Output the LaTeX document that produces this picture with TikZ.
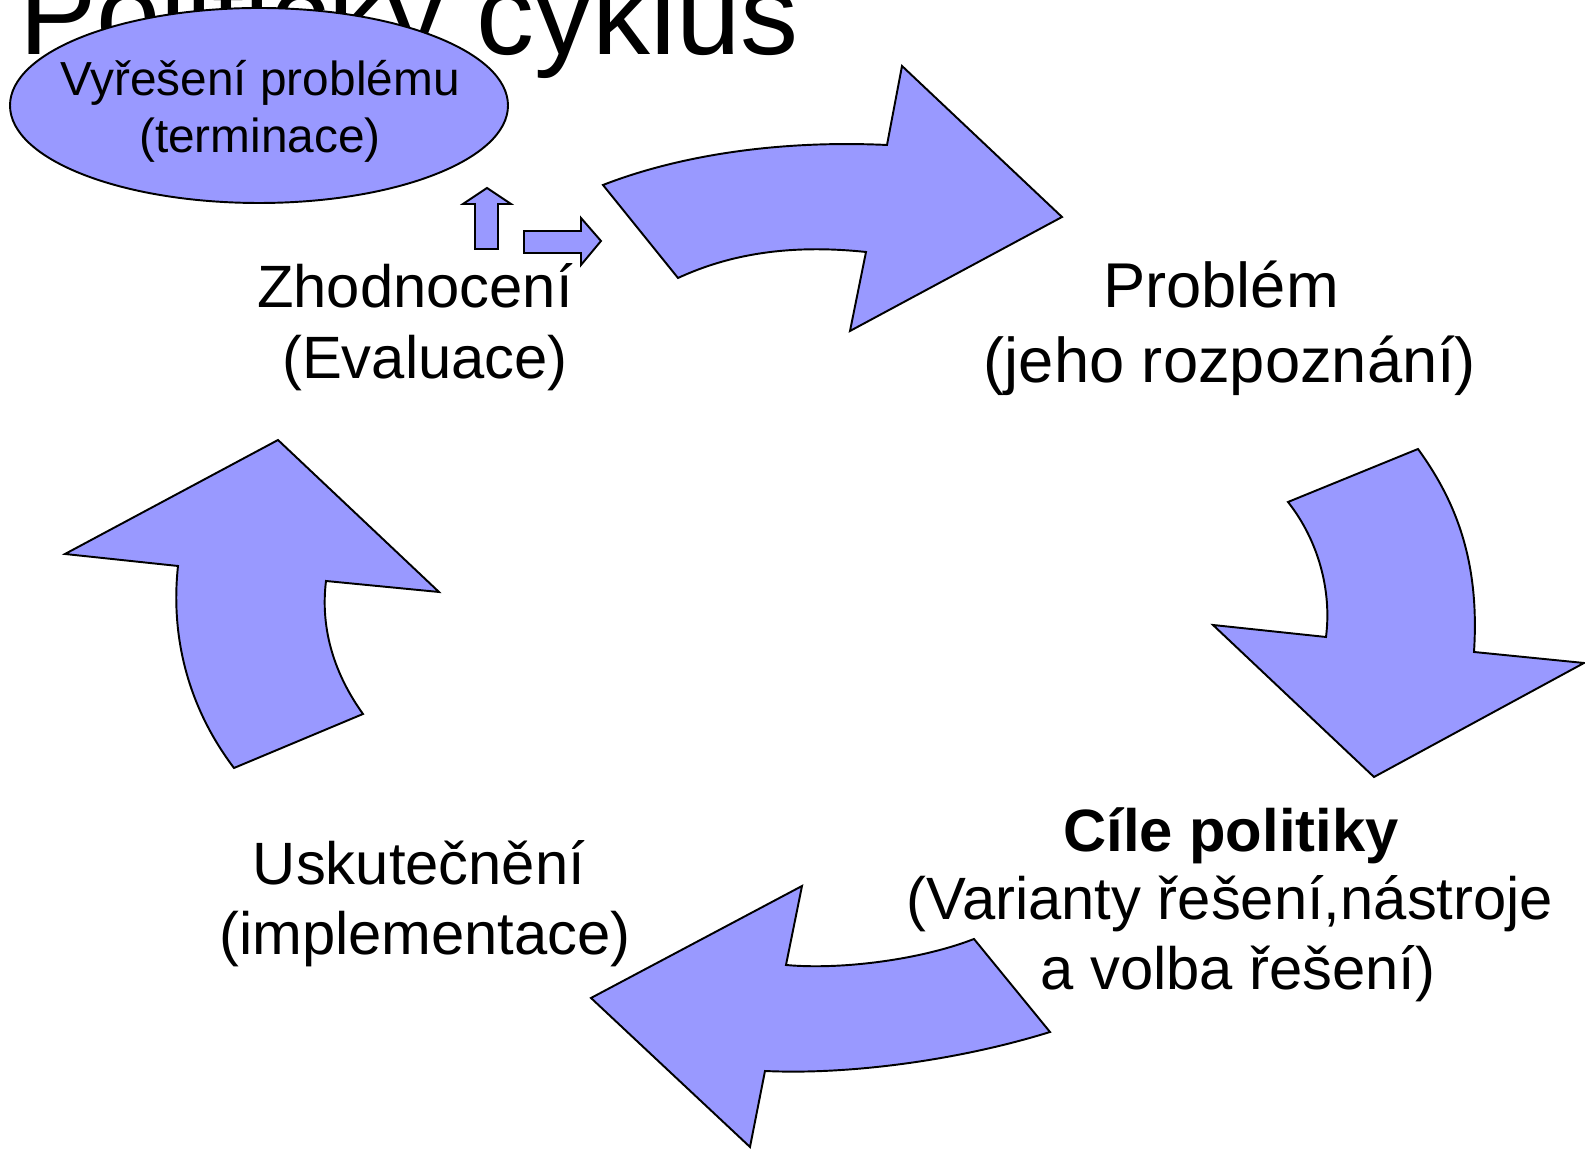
\documentclass[tikz,border=0pt]{standalone}
\usepackage{fontspec}
\setmainfont{Liberation Sans}
\usetikzlibrary{shapes.geometric}
\newlength{\du}
\setlength{\du}{0.284528\unitlength}
\definecolor{shapefill}{rgb}{0.600000, 0.600000, 1.000000}
\tikzset{
  cyclearrow/.style={draw=black, fill=shapefill, line width=0.55pt, line join=miter},
  stagetext/.style={anchor=base, inner sep=0pt, font=\fontsize{17}{20}\selectfont},
  bigtext/.style={stagetext, font=\fontsize{18}{21}\selectfont},
  termtext/.style={stagetext, font=\fontsize{13.6}{16}\selectfont}
}

\begin{document}
\begin{tikzpicture}
\pgftransformxscale{1.000000}
\pgftransformyscale{-1.000000}
\useasboundingbox (0\du,0\du) rectangle (1585\du,1149\du);
% title, partly hidden
\node[stagetext, font=\fontsize{33}{40}\selectfont] (title) at (409\du,55\du){Politický cyklus};
% termination ellipse
\node[ellipse, draw=black, fill=shapefill, line width=0.55pt, inner sep=0pt,
      minimum width=498\du, minimum height=195\du] (term) at (259\du,105.5\du){};
\node[termtext] (termA) at (260\du,96\du){Vyřešení problému};
\node[termtext] (termB) at (260\du,153\du){(terminace)};
% small arrows
\draw[cyclearrow] (475\du,249\du)--(475\du,204\du)--(463\du,204\du)--(487\du,188\du)--(511\du,204\du)--(498\du,204\du)--(498\du,249\du)--cycle;
\draw[cyclearrow] (524\du,231\du)--(581\du,231\du)--(581\du,218\du)--(601\du,241\du)--(581\du,265\du)--(581\du,253\du)--(524\du,253\du)--cycle;
% top arrow
\draw[cyclearrow] (603\du,185\du) .. controls (680\du,155\du) and (780\du,140\du) .. (887\du,145\du)
  --(902\du,66\du)--(1062\du,217\du)--(850\du,331\du)--(866\du,252\du)
  .. controls (790\du,244\du) and (730\du,254\du) .. (678\du,278\du)--cycle;
% right arrow
\draw[cyclearrow] (1418\du,449\du) .. controls (1455\du,500\du) and (1480\du,560\du) .. (1474\du,652\du)
  --(1584\du,663\du)--(1374\du,777\du)--(1213\du,625\du)--(1326\du,637\du)
  .. controls (1332\du,590\du) and (1318\du,540\du) .. (1288\du,502\du)--cycle;
% bottom arrow
\draw[cyclearrow] (1050\du,1032\du) .. controls (960\du,1060\du) and (850\du,1075\du) .. (765\du,1071\du)
  --(750\du,1147\du)--(591\du,998\du)--(802\du,886\du)--(786\du,965\du)
  .. controls (840\du,970\du) and (920\du,960\du) .. (974\du,939\du)--cycle;
% left arrow
\draw[cyclearrow] (363\du,714\du) .. controls (335\du,675\du) and (320\du,630\du) .. (326\du,581\du)
  --(439\du,592\du)--(278\du,440\du)--(65\du,554\du)--(178\du,566\du)
  .. controls (170\du,640\du) and (190\du,710\du) .. (234\du,768\du)--cycle;
% stage labels
\node[stagetext] (evalA) at (415\du,308\du){Zhodnocení};
\node[stagetext] (evalB) at (425\du,379\du){(Evaluace)};
\node[bigtext] (probA) at (1221\du,308\du){Problém};
\node[bigtext] (probB) at (1230\du,383\du){(jeho rozpoznání)};
\node[stagetext, font=\fontsize{17}{20}\selectfont\bfseries] (goalA) at (1231\du,852\du){Cíle politiky};
\node[stagetext] (goalB) at (1230\du,920\du){(Varianty řešení,nástroje};
\node[stagetext] (goalC) at (1238\du,990\du){a volba řešení)};
\node[stagetext] (implA) at (419\du,885\du){Uskutečnění};
\node[stagetext] (implB) at (425\du,955\du){(implementace)};
\end{tikzpicture}
\end{document}
